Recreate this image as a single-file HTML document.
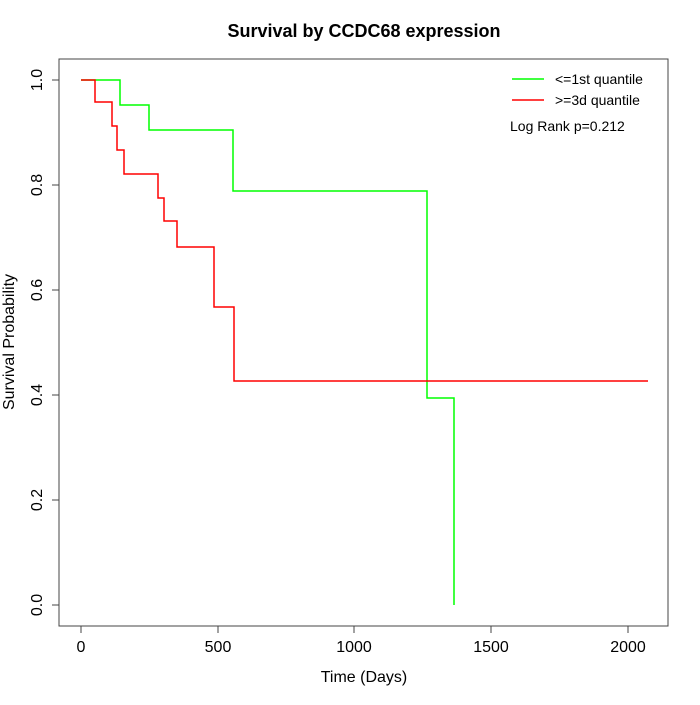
<!DOCTYPE html>
<html><head><style>body{margin:0;background:#fff}</style></head><body>
<svg width="700" height="700" xmlns="http://www.w3.org/2000/svg" font-family="Liberation Sans, sans-serif">
<rect width="700" height="700" fill="#fff"/>
<text x="364" y="37" font-size="18" font-weight="bold" text-anchor="middle">Survival by CCDC68 expression</text>
<rect x="59" y="59" width="609" height="567" fill="none" stroke="#444" stroke-width="1"/>
<g stroke="#444">
<line x1="59" y1="80" x2="52" y2="80"/><line x1="59" y1="185" x2="52" y2="185"/><line x1="59" y1="290" x2="52" y2="290"/><line x1="59" y1="395" x2="52" y2="395"/><line x1="59" y1="500" x2="52" y2="500"/><line x1="59" y1="605" x2="52" y2="605"/>
<line x1="81" y1="626" x2="81" y2="633"/><line x1="218" y1="626" x2="218" y2="633"/><line x1="354" y1="626" x2="354" y2="633"/><line x1="491" y1="626" x2="491" y2="633"/><line x1="628" y1="626" x2="628" y2="633"/>
</g>
<g font-size="16" text-anchor="middle">
<text x="81" y="652">0</text><text x="218" y="652">500</text><text x="354" y="652">1000</text><text x="491" y="652">1500</text><text x="628" y="652">2000</text>
<text x="364" y="682">Time (Days)</text>
<g transform="translate(42,0)">
<text transform="translate(0,80) rotate(-90)">1.0</text><text transform="translate(0,185) rotate(-90)">0.8</text><text transform="translate(0,290) rotate(-90)">0.6</text><text transform="translate(0,395) rotate(-90)">0.4</text><text transform="translate(0,500) rotate(-90)">0.2</text><text transform="translate(0,605) rotate(-90)">0.0</text>
</g>
<text transform="translate(14,342) rotate(-90)">Survival Probability</text>
</g>
<polyline fill="none" stroke="#00ff00" stroke-width="1.5" points="81,80 120,80 120,105 149,105 149,130 233,130 233,191 427,191 427,398 454,398 454,605"/>
<polyline fill="none" stroke="#ff0000" stroke-width="1.5" points="81,80 95,80 95,102 112,102 112,126 117,126 117,150 124,150 124,174 158,174 158,198 164,198 164,221 177,221 177,247 214,247 214,307 234,307 234,381 648,381"/>
<line x1="512" y1="79" x2="544" y2="79" stroke="#00ff00" stroke-width="1.5"/>
<line x1="512" y1="100" x2="544" y2="100" stroke="#ff0000" stroke-width="1.5"/>
<g font-size="14"><text x="555" y="84">&lt;=1st quantile</text><text x="555" y="105">&gt;=3d quantile</text><text x="510" y="131">Log Rank p=0.212</text></g>
</svg>
</body></html>
